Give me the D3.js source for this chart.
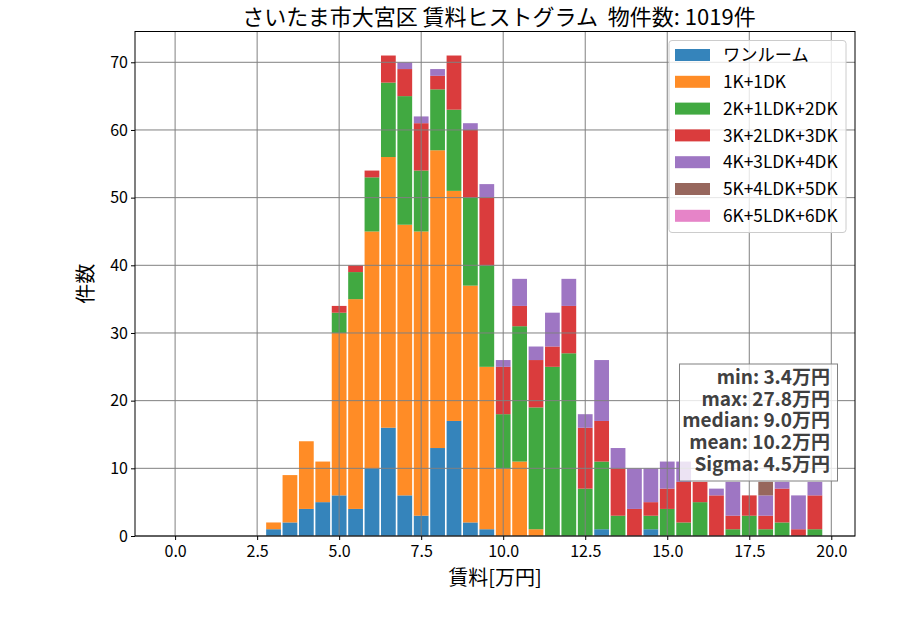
<!DOCTYPE html>
<html>
<head>
<meta charset="utf-8">
<script src="https://cdn.jsdelivr.net/npm/d3@7"></script>
<style>
  html, body { margin: 0; padding: 0; background: #fff; }
  svg { display: block; }
  text { font-family: "Noto Sans CJK JP", "Noto Sans", sans-serif; }
</style>
</head>
<body>
<svg id="chart" width="900" height="630"></svg>
<script>
// ---- data ----
const binCenters = [3.0,3.5,4.0,4.5,5.0,5.5,6.0,6.5,7.0,7.5,8.0,8.5,9.0,9.5,10.0,10.5,11.0,11.5,12.0,12.5,13.0,13.5,14.0,14.5,15.0,15.5,16.0,16.5,17.0,17.5,18.0,18.5,19.0,19.5];
const seriesNames = ["ワンルーム","1K+1DK","2K+1LDK+2DK","3K+2LDK+3DK","4K+3LDK+4DK","5K+4LDK+5DK","6K+5LDK+6DK"];
const oneRoom = [1,2,4,5,6,4,10,16,6,3,13,17,2,1,0,0,0,0,0,0,1,0,0,1,0,0,0,0,0,0,0,0,0,0];
const k1      = [1,7,10,6,24,31,35,40,40,42,44,34,35,24,10,11,1,0,0,0,0,0,0,0,0,0,0,0,0,0,0,0,0,0];
const k2      = [0,0,0,0,3,4,8,11,19,9,9,12,13,15,8,20,18,25,27,7,10,3,0,2,4,2,5,0,1,3,1,2,0,1];
const k3      = [0,0,0,0,1,1,1,4,4,7,2,8,10,10,7,3,7,3,7,9,6,7,4,2,3,6,3,6,2,3,2,5,1,5];
const k4      = [0,0,0,0,0,0,0,0,1,1,1,0,1,2,1,4,2,5,4,2,9,3,6,5,4,3,0,1,5,0,3,1,5,2];
const k5      = [0,0,0,0,0,0,0,0,0,0,0,0,0,0,0,0,0,0,0,0,0,0,0,0,0,0,0,0,0,0,2,0,0,0];
const k6      = [0,0,0,0,0,0,0,0,0,0,0,0,0,0,0,0,0,0,0,0,0,0,0,0,0,0,0,0,0,0,0,0,0,0];
const seriesValues = [oneRoom,k1,k2,k3,k4,k5,k6];
const colors = ["#1f77b4","#ff7f0e","#2ca02c","#d62728","#9467bd","#8c564b","#e377c2"];
const xTicks = [0,2.5,5,7.5,10,12.5,15,17.5,20];
const yTicks = [0,10,20,30,40,50,60,70];
const statsLines = ["min: 3.4万円","max: 27.8万円","median: 9.0万円","mean: 10.2万円","Sigma: 4.5万円"];
const titleText = "さいたま市大宮区 賃料ヒストグラム  物件数: 1019件";
const xLabel = "賃料[万円]";
const yLabel = "件数";
const binWidth = 0.5, rwidth = 0.9;

(function () {
// ---- layout ----
const mLeft = 135, mRight = 855, mTop = 31.5, mBottom = 536;
const svg = d3.select("#chart");

const rows = binCenters.map((c, i) => {
  const r = {c};
  seriesNames.forEach((n, j) => r[n] = seriesValues[j][i]);
  return r;
});
const stacked = d3.stack().keys(seriesNames)(rows);
const maxTotal = d3.max(rows, r => d3.sum(seriesNames, n => r[n]));

const x = d3.scaleLinear().domain([-0.225 - 0.9975, 19.725 + 0.9975]).range([mLeft, mRight]);
const y = d3.scaleLinear().domain([0, maxTotal * 1.05]).range([mBottom, mTop]);

// bars
const bw = x(binWidth * rwidth) - x(0);
stacked.forEach((layer, j) => {
  svg.append("g").attr("fill", colors[j]).attr("fill-opacity", 0.9)
    .selectAll("rect").data(layer.filter(d => d[1] - d[0] > 0)).enter().append("rect")
    .attr("x", d => x(d.data.c) - bw / 2)
    .attr("width", bw)
    .attr("y", d => y(d[1]))
    .attr("height", d => y(d[0]) - y(d[1]));
});

// grid (drawn over bars)
const grid = svg.append("g").attr("stroke", "#808080").attr("stroke-width", 1);
xTicks.forEach(t => grid.append("line").attr("x1", x(t)).attr("x2", x(t)).attr("y1", mTop).attr("y2", mBottom));
yTicks.forEach(t => grid.append("line").attr("x1", mLeft).attr("x2", mRight).attr("y1", y(t)).attr("y2", y(t)));

// axes
const xAxis = svg.append("g").attr("transform", `translate(0,${mBottom})`)
  .call(d3.axisBottom(x).tickValues(xTicks).tickFormat(d3.format(".1f")).tickSize(4).tickSizeOuter(0));
const yAxis = svg.append("g").attr("transform", `translate(${mLeft},0)`)
  .call(d3.axisLeft(y).tickValues(yTicks).tickFormat(d3.format("d")).tickSize(4).tickSizeOuter(0));
[xAxis, yAxis].forEach(a => {
  a.select(".domain").remove();
  a.selectAll("text").attr("font-size", 16).attr("fill", "#000")
    .style("font-family", '"Noto Sans CJK JP", sans-serif');
  a.selectAll("line").attr("stroke", "#000");
});
xAxis.selectAll("text").attr("dy", "0.85em");

// spines
svg.append("rect").attr("x", mLeft).attr("y", mTop).attr("width", mRight - mLeft).attr("height", mBottom - mTop)
  .attr("fill", "none").attr("stroke", "#000").attr("stroke-width", 1);

// title & labels
svg.append("text").attr("x", (mLeft + mRight) / 2 + 4).attr("y", 25).attr("text-anchor", "middle")
  .attr("font-size", 22).style("white-space", "pre").text(titleText);
svg.append("text").attr("x", (mLeft + mRight) / 2).attr("y", 585).attr("text-anchor", "middle")
  .attr("font-size", 20).text(xLabel);
svg.append("text").attr("transform", `translate(93,${(mTop + mBottom) / 2}) rotate(-90)`)
  .attr("text-anchor", "middle").attr("font-size", 20).text(yLabel);

// legend
const lg = svg.append("g");
lg.append("rect").attr("x", 669).attr("y", 40.5).attr("width", 177).attr("height", 192).attr("rx", 3)
  .attr("fill", "#fff").attr("fill-opacity", 0.8).attr("stroke", "#cccccc");
seriesNames.forEach((n, j) => {
  const cy = 55 + j * 26.8;
  lg.append("rect").attr("x", 675).attr("y", cy - 6).attr("width", 35).attr("height", 12)
    .attr("fill", colors[j]).attr("fill-opacity", 0.9);
  lg.append("text").attr("x", 723).attr("y", cy).attr("dy", "0.36em").attr("font-size", 17.3).text(n);
});

// stats box
const sb = svg.append("g");
sb.append("rect").attr("x", 679.5).attr("y", 364).attr("width", 158).attr("height", 117)
  .attr("fill", "#fff").attr("fill-opacity", 0.8).attr("stroke", "#808080");
statsLines.forEach((s, i) => {
  sb.append("text").attr("x", 830).attr("y", 377 + i * 21.7).attr("dy", "0.36em")
    .attr("text-anchor", "end").attr("font-size", 19).attr("font-weight", "bold")
    .attr("fill", "#404040").text(s);
});
})();
</script>
</body>
</html>
